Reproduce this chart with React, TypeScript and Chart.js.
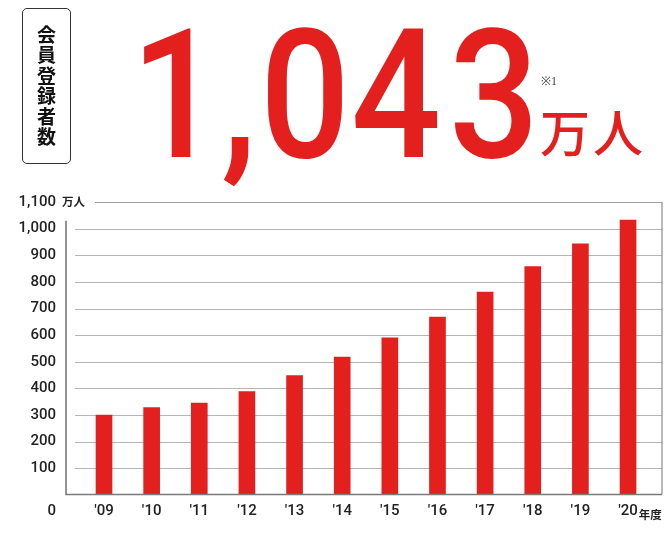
import React, { useEffect, useRef } from 'react';
import { Chart, registerables } from 'chart.js';

Chart.register(...registerables);

// 会員登録者数（万人）
const years = [2009, 2010, 2011, 2012, 2013, 2014, 2015, 2016, 2017, 2018, 2019, 2020];
const yearLabels = ["'09", "'10", "'11", "'12", "'13", "'14", "'15", "'16", "'17", "'18", "'19", "'20"];
const members = [300, 328, 345, 388, 448, 518, 590, 668, 762, 858, 943, 1032];
const gridValues = [100, 200, 300, 400, 500, 600, 700, 800, 900, 1000];

const RED = '#e3201e';
const NUM_FONT = 'Roboto, "Noto Sans", sans-serif';
const JP_FONT = '"Noto Sans CJK JP", "Noto Sans", sans-serif';

// headline glyphs, each centred on its own spot (condensed look)
const headline = [
  { ch: '1', cx: 176 },
  { ch: ',', cx: 239 },
  { ch: '0', cx: 305 },
  { ch: '4', cx: 396 },
  { ch: '3', cx: 494 },
];

// draws the frame, grid and the little unit labels
const framePlugin = {
  id: 'frame',
  beforeDatasetsDraw(chart: any) {
    const { ctx, chartArea, scales } = chart;
    const y = scales.y;
    ctx.save();
    ctx.strokeStyle = '#b5b5b5';
    ctx.lineWidth = 1.2;
    gridValues.forEach(v => {
      const py = Math.round(y.getPixelForValue(v)) + 0.5;
      ctx.beginPath();
      ctx.moveTo(chartArea.left, py);
      ctx.lineTo(chartArea.right, py);
      ctx.stroke();
    });
    // top line (1,100) starts after the unit text
    const topY = Math.round(y.getPixelForValue(1100)) + 0.5;
    ctx.strokeStyle = '#a0a0a0';
    ctx.beginPath();
    ctx.moveTo(chartArea.left + 20, topY);
    ctx.lineTo(chartArea.right, topY);
    ctx.stroke();
    ctx.restore();
  },
  afterDatasetsDraw(chart: any) {
    const { ctx, chartArea, scales } = chart;
    const { x, y } = scales;
    const axisX = chartArea.left - 9;
    const bottom = Math.round(chartArea.bottom) - 0.5;
    ctx.save();
    ctx.lineWidth = 1.6;
    ctx.strokeStyle = '#7a7a7a';
    ctx.beginPath();
    ctx.moveTo(axisX, y.getPixelForValue(1000) - 8);
    ctx.lineTo(axisX, bottom);
    ctx.lineTo(chartArea.right, bottom);
    ctx.stroke();
    ctx.strokeStyle = '#8a8a8a';
    ctx.lineWidth = 1.2;
    ctx.beginPath();
    ctx.moveTo(chartArea.right, y.getPixelForValue(1100));
    ctx.lineTo(chartArea.right, bottom);
    ctx.stroke();

    // 万人 next to the top tick
    ctx.fillStyle = '#222';
    ctx.font = `700 11.5px ${JP_FONT}`;
    ctx.textBaseline = 'middle';
    ctx.textAlign = 'left';
    ctx.fillText('万人', axisX - 4, y.getPixelForValue(1100));

    // 年度 after the last year
    const last = years[years.length - 1];
    ctx.font = `500 15px ${NUM_FONT}`;
    const w = ctx.measureText(yearLabels[yearLabels.length - 1]).width;
    ctx.font = `700 11.5px ${JP_FONT}`;
    ctx.textBaseline = 'alphabetic';
    ctx.fillText('年度', x.getPixelForValue(last) + w / 2 + 1, chartArea.bottom + 23.5);
    ctx.restore();
  },
};

function MembersChart() {
  const canvasRef = useRef<HTMLCanvasElement>(null);
  const chartRef = useRef<Chart>();

  useEffect(() => {
    if (!canvasRef.current) return;
    chartRef.current?.destroy();
    chartRef.current = new Chart(canvasRef.current, {
      type: 'bar',
      data: {
        datasets: [{
          label: '会員登録者数',
          data: members.map((m, i) => ({ x: years[i], y: m })),
          backgroundColor: RED,
          barThickness: 16,
        }],
      },
      options: {
        animation: false,
        responsive: true,
        maintainAspectRatio: false,
        layout: { padding: { top: 202, right: 8, bottom: 0, left: 0 } },
        plugins: {
          legend: { display: false },
          tooltip: { enabled: false },
        },
        scales: {
          x: {
            type: 'linear',
            offset: false,
            min: 2008.391,
            max: 2020.713,
            afterBuildTicks: (axis: any) => { axis.ticks = years.map(v => ({ value: v })); },
            afterFit: (scale: any) => { scale.height = 36; },
            grid: { display: false, drawTicks: false },
            border: { display: false },
            ticks: {
              autoSkip: false,
              maxRotation: 0,
              padding: 7,
              color: '#222',
              font: { family: NUM_FONT, size: 15, weight: '500' },
              callback: (v: any) => yearLabels[years.indexOf(Number(v))] ?? '',
            },
          },
          y: {
            min: 0,
            max: 1100,
            afterFit: (scale: any) => { scale.width = 75; },
            grid: { display: false, drawTicks: false },
            border: { display: false },
            ticks: {
              stepSize: 100,
              autoSkip: false,
              padding: 19,
              color: '#222',
              font: { family: NUM_FONT, size: 15, weight: '500', lineHeight: 16 / 15 },
              callback: (v: any) => (Number(v) === 0 ? ['', '', '0'] : Number(v).toLocaleString('en-US')),
            },
          },
        },
      },
      plugins: [framePlugin],
    });
    return () => { chartRef.current?.destroy(); };
  }, []);

  return (
    <div style={{ position: 'absolute', left: 0, top: 0, width: 670, height: 538 }}>
      <canvas ref={canvasRef} />
    </div>
  );
}

export default function App() {
  return (
    <div style={{ position: 'absolute', left: 0, top: 0, width: 670, height: 538, background: '#fff', overflow: 'hidden' }}>
      <MembersChart />
      <div style={{
        position: 'absolute', left: 22, top: 8, width: 47, height: 154,
        border: '1.5px solid #333', borderRadius: 5,
        display: 'flex', alignItems: 'center', justifyContent: 'center',
      }}>
        <span style={{
          writingMode: 'vertical-rl', fontFamily: JP_FONT, fontWeight: 700,
          fontSize: 19, letterSpacing: 1.5, color: '#111', lineHeight: 1,
        }}>会員登録者数</span>
      </div>
      {headline.map(({ ch, cx }) => (
        <span key={cx} style={{
          position: 'absolute', left: cx - 60, top: 6, width: 120, textAlign: 'center',
          fontFamily: NUM_FONT, fontWeight: 500, fontSize: 180, lineHeight: 1, color: RED,
          transform: 'scaleX(0.88)',
        }}>{ch}</span>
      ))}
      <div style={{
        position: 'absolute', left: 541, top: 75, fontFamily: '"Liberation Serif", serif',
        fontSize: 12, color: '#444', lineHeight: 1,
      }}>※1</div>
      <div style={{
        position: 'absolute', left: 540, top: 105, fontFamily: JP_FONT, fontWeight: 500,
        fontSize: 50, lineHeight: 1, color: RED, whiteSpace: 'nowrap', letterSpacing: 3,
      }}>万人</div>
    </div>
  );
}
